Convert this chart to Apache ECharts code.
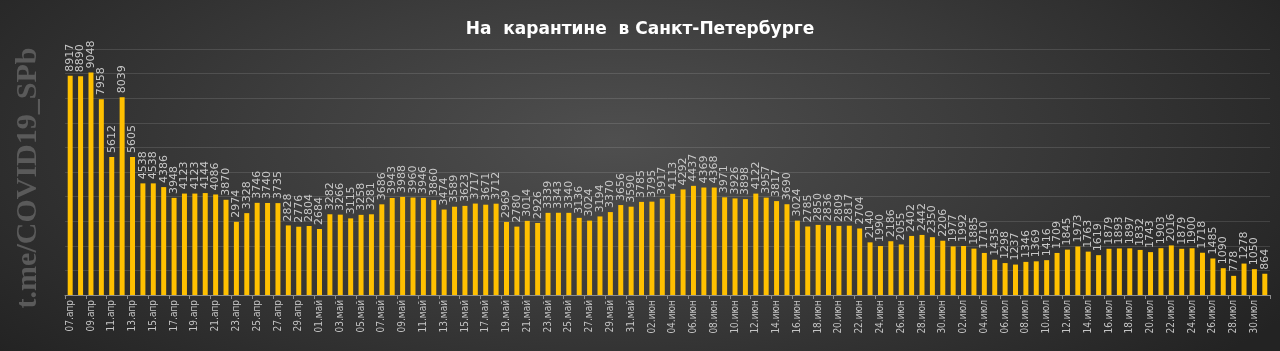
<!DOCTYPE html>
<html>
<head>
<meta charset="utf-8">
<title>На карантине в Санкт-Петербурге</title>
<script src="https://cdn.jsdelivr.net/npm/echarts@6/dist/echarts.min.js"></script>
<style>
    html, body { margin: 0; padding: 0; }
    #chart {
        width: 1280px;
        height: 351px;
        background: radial-gradient(ellipse 62% 95% at 48% 40%, #4f4f4f 0%, #3c3c3c 45%, #232323 100%);
    }
</style>
</head>
<body>
<div id="chart"></div>
<script>
// дни: 07.апр .. 31.июл
var aprDays = ['07','08','09','10','11','12','13','14','15','16','17','18','19','20','21','22','23','24','25','26','27','28','29','30'];
var monthNames = ['апр', 'май', 'июн', 'июл'];
var monthLength = [24, 31, 30, 31];

var aprValues = [8917, 8890, 9048, 7958, 5612, 8039, 5605, 4538, 4538, 4386, 3948, 4123, 4123, 4144, 4086, 3870, 2974, 3328, 3746, 3740, 3735, 2828, 2776, 2804];
var mayValues = [2684, 3282, 3266, 3115, 3258, 3281, 3686, 3943, 3988, 3960, 3946, 3860, 3474, 3589, 3623, 3717, 3671, 3712, 2969, 2780, 3014, 2926, 3339, 3343, 3340, 3136, 3024, 3194, 3370, 3656, 3590];
var junValues = [3785, 3795, 3917, 4113, 4292, 4437, 4369, 4368, 3971, 3926, 3898, 4122, 3957, 3817, 3690, 3024, 2785, 2850, 2836, 2809, 2817, 2704, 2140, 1990, 2186, 2055, 2402, 2442, 2350, 2206];
var julValues = [1977, 1992, 1885, 1710, 1435, 1298, 1237, 1346, 1369, 1416, 1709, 1845, 1973, 1763, 1619, 1879, 1893, 1897, 1832, 1743, 1903, 2016, 1879, 1900, 1718, 1485, 1090, 778, 1278, 1050, 864];

var yMin = 0, yMax = 10000, yStep = 1000;

function add_zero(n) {
    return n < 10 ? '0' + n : '' + n;
}

var categories = [];
for (var m = 0; m < monthNames.length; m++) {
    var start = (m === 0) ? parseInt(aprDays[0], 10) : 1;
    for (var d = 0; d < monthLength[m]; d++) {
        categories.push(add_zero(start + d) + '.' + monthNames[m]);
    }
}
var values = aprValues.concat(mayValues, junValues, julValues);

var myChart = echarts.init(document.getElementById('chart'), null, { renderer: 'canvas' });
var option = {
    backgroundColor: 'transparent',
    animation: false,
    title: {
        text: 'На  карантине  в Санкт-Петербурге',
        left: 'center',
        top: 16,
        textStyle: {
            color: '#ffffff',
            fontFamily: 'DejaVu Sans',
            fontSize: 17,
            fontWeight: 'bold'
        }
    },
    graphic: [{
        type: 'text',
        x: 28,
        y: 178,
        rotation: Math.PI / 2,
        style: {
            text: 't.me/COVID19_SPb',
            fill: '#5a5a5a',
            font: 'bold 30px "Liberation Serif", "DejaVu Serif", serif',
            align: 'center',
            verticalAlign: 'middle'
        }
    }],
    grid: {
        left: 65,
        right: 10,
        top: 49,
        bottom: 56
    },
    xAxis: {
        type: 'category',
        data: categories,
        axisLine: { lineStyle: { color: '#8c8c8c', width: 1 } },
        axisTick: {
            show: true,
            interval: 1,
            length: 4,
            lineStyle: { color: '#8c8c8c' }
        },
        axisLabel: {
            interval: 1,
            rotate: 90,
            color: '#c4c4c4',
            fontFamily: '"Liberation Sans Narrow", "DejaVu Sans Condensed", sans-serif',
            fontSize: 10,
            margin: 5
        }
    },
    yAxis: {
        type: 'value',
        min: yMin,
        max: yMax,
        interval: yStep,
        axisLine: { show: false },
        axisTick: { show: false },
        axisLabel: { show: false },
        splitLine: { lineStyle: { color: 'rgba(255,255,255,0.12)', width: 1 } }
    },
    series: [{
        name: 'На карантине',
        type: 'bar',
        data: values,
        barWidth: '48%',
        itemStyle: { color: '#FFC000' },
        label: {
            show: true,
            position: 'top',
            rotate: 90,
            align: 'left',
            verticalAlign: 'middle',
            distance: 4,
            color: '#c8c8c8',
            fontFamily: 'DejaVu Sans',
            fontSize: 11
        }
    }]
};
myChart.setOption(option);
</script>
</body>
</html>
